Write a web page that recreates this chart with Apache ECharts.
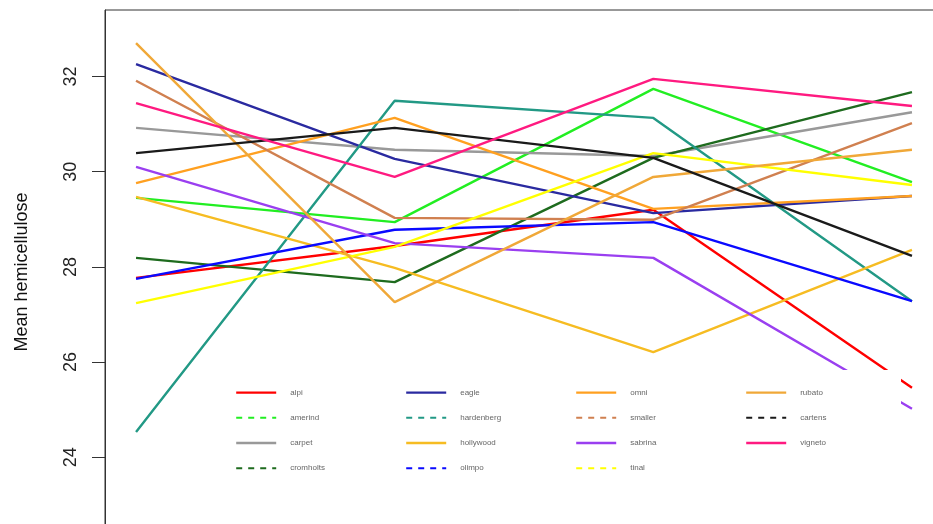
<!DOCTYPE html>
<html>
<head>
<meta charset="utf-8">
<script src="https://cdn.jsdelivr.net/npm/echarts@6/dist/echarts.min.js"></script>
<style>
html,body{margin:0;padding:0;background:#fff;}
#chart{width:933px;height:524px;}
</style>
</head>
<body>
<div id="chart"></div>
<script>
// x positions (4 sampling points)
const xValues = [1, 2, 3, 4];
// y-axis tick labels
const yTicks = [24, 26, 28, 30, 32];

// series values (mean hemicellulose)
const alpi       = [27.77, 28.44, 29.20, 25.46];
const amerind    = [29.45, 28.94, 31.74, 29.78];
const carpet     = [30.92, 30.46, 30.33, 31.25];
const cromholts  = [28.19, 27.68, 30.29, 31.67];
const eagle      = [32.26, 30.27, 29.13, 29.49];
const hardenberg = [24.53, 31.49, 31.13, 27.28];
const hollywood  = [29.47, 27.98, 26.21, 28.36];
const olimpo     = [27.75, 28.78, 28.94, 27.28];
const omni       = [29.76, 31.13, 29.22, 29.49];
const smaller    = [31.91, 29.03, 28.99, 31.02];
const sabrina    = [30.10, 28.50, 28.19, 25.02];
const tinal      = [27.24, 28.42, 30.39, 29.72];
const rubato     = [32.70, 27.26, 29.89, 30.46];
const cartens    = [30.39, 30.92, 30.29, 28.23];
const vigneto    = [31.44, 29.89, 31.95, 31.38];

const seriesNames = ['alpi','amerind','carpet','cromholts','eagle','hardenberg','hollywood','olimpo',
                     'omni','smaller','sabrina','tinal','rubato','cartens','vigneto'];
const seriesValues = [alpi, amerind, carpet, cromholts, eagle, hardenberg, hollywood, olimpo,
                      omni, smaller, sabrina, tinal, rubato, cartens, vigneto];
const seriesColors = ['#ff0000','#22ee22','#999999','#1e6b1e','#2a2aa0','#229985','#f6bc22','#0a0aff',
                      '#ffa020','#d08050','#9a3ff0','#ffff00','#f0a838','#1a1a1a','#ff1a80'];
const dashedLegend = ['amerind','cromholts','hardenberg','olimpo','smaller','tinal','cartens'];

const legendColumns = [
  ['alpi','amerind','carpet','cromholts'],
  ['eagle','hardenberg','hollywood','olimpo'],
  ['omni','smaller','sabrina','tinal'],
  ['rubato','cartens','vigneto']
];

const series = seriesNames.map((name, i) => ({
  name: name,
  type: 'line',
  symbol: 'none',
  z: 2,
  color: seriesColors[i],
  lineStyle: { width: 2.4, color: seriesColors[i] },
  data: xValues.map((x, j) => [x, seriesValues[i][j]])
}));

const legends = legendColumns.map((names, c) => ({
  orient: 'vertical',
  left: 230 + c * 170,
  top: 382,
  itemWidth: 40,
  itemHeight: 14,
  itemGap: 14,
  selectedMode: false,
  z: 20,
  itemStyle: { opacity: 0, borderWidth: 0 },
  textStyle: { fontSize: 8, color: '#666', fontFamily: 'Liberation Sans', padding: [0, 0, 0, 9] },
  data: names.map(n => dashedLegend.includes(n)
    ? { name: n, itemStyle: { opacity: 0, borderWidth: 0 }, lineStyle: { type: [6, 6], width: 2 } }
    : { name: n, itemStyle: { opacity: 0, borderWidth: 0 }, lineStyle: { width: 2.4 } })
}));

const chart = echarts.init(document.getElementById('chart'), null, { renderer: 'canvas' });
chart.setOption({
  backgroundColor: '#ffffff',
  animation: false,
  textStyle: { fontFamily: 'Liberation Sans' },
  grid: {
    left: 105, top: 10, width: 838, height: 524,
    outerBoundsMode: 'none',
    containLabel: false,
    show: true, borderColor: '#333', borderWidth: 1
  },
  xAxis: {
    type: 'value', min: 0.88, max: 4.12,
    axisLine: { show: false }, axisTick: { show: false },
    axisLabel: { show: false }, splitLine: { show: false }
  },
  yAxis: {
    type: 'value', min: 22.389, max: 33.397,
    name: 'Mean hemicellulose',
    nameLocation: 'middle',
    nameRotate: 90,
    nameGap: 74,
    nameTextStyle: { fontSize: 18, color: '#111', fontFamily: 'Liberation Sans' },
    axisLine: { show: true, lineStyle: { color: '#333', width: 1 } },
    axisTick: { show: true, customValues: yTicks, length: 13, lineStyle: { color: '#333' } },
    axisLabel: { customValues: yTicks, rotate: 90, margin: 25, fontSize: 18, color: '#222', fontFamily: 'Liberation Sans' },
    splitLine: { show: false }
  },
  legend: legends,
  graphic: [{
    type: 'rect', z: 10,
    shape: { x: 205, y: 370, width: 696, height: 118 },
    style: { fill: '#ffffff' }
  }],
  series: series
});
</script>
</body>
</html>
